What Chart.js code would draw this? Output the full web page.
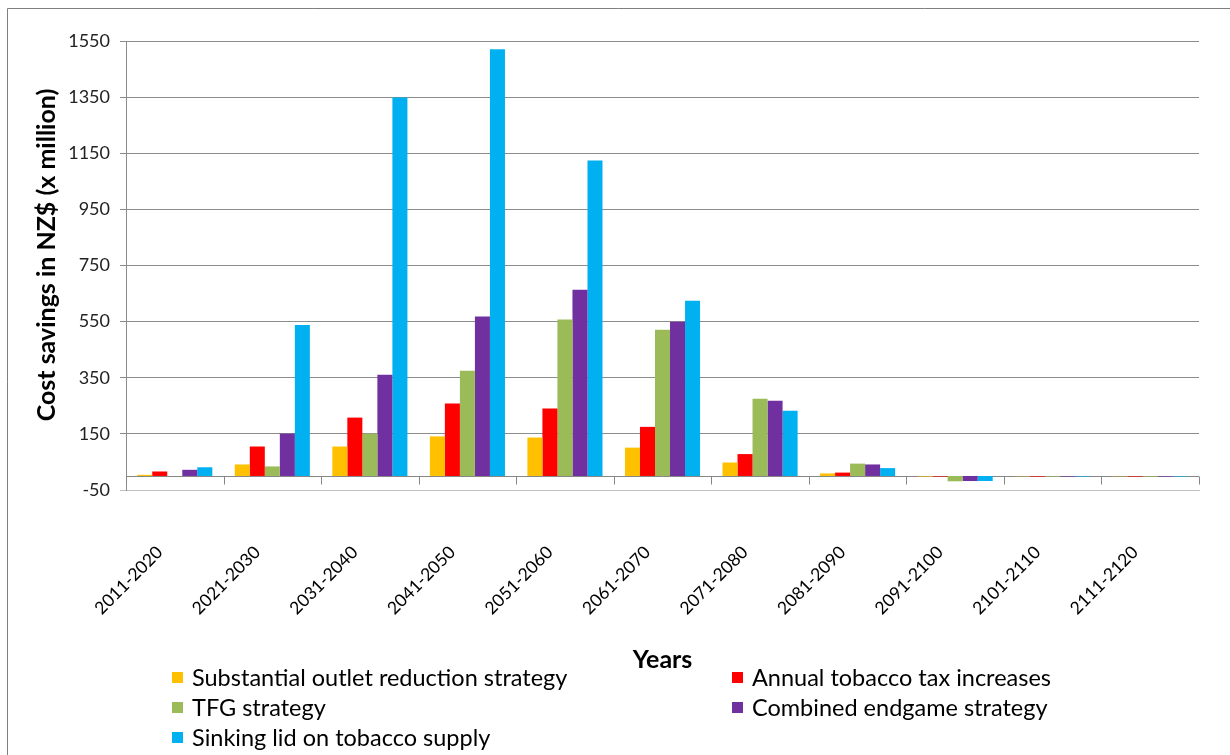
<!DOCTYPE html>
<html>
<head>
<meta charset="utf-8">
<script src="https://cdn.jsdelivr.net/npm/chart.js@4.4.1/dist/chart.umd.min.js"></script>
<style>
html,body{margin:0;padding:0;background:#fff;}
#wrap{width:1230px;height:755px;position:relative;}
</style>
</head>
<body>
<div id="wrap"><canvas id="c" width="1230" height="755"></canvas></div>
<script>
const categories = ['2011-2020','2021-2030','2031-2040','2041-2050','2051-2060','2061-2070','2071-2080','2081-2090','2091-2100','2101-2110','2111-2120'];
const seriesNames = ['Substantial outlet reduction strategy','Annual tobacco tax increases','TFG strategy','Combined endgame strategy','Sinking lid on tobacco supply'];
const seriesColors = ['#FFC000','#FF0000','#9BBB59','#7030A0','#00B0F0'];
const outletReduction = [4, 41, 105, 141, 137, 101, 48, 9, -2, -1, -1];
const taxIncreases = [16, 105, 208, 258, 240, 175, 78, 12, -2, -2, -2];
const tfgStrategy = [0, 34, 151, 375, 558, 521, 275, 44, -19, -2, -2];
const combinedEndgame = [22, 151, 361, 568, 664, 550, 268, 41, -18, -2, -2];
const sinkingLid = [31, 538, 1349, 1521, 1124, 624, 232, 28, -18, -2, -2];
const yTickValues = [-50, 150, 350, 550, 750, 950, 1150, 1350, 1550];
const yTitle = 'Cost savings in NZ$ (x million)';
const xTitle = 'Years';

const seriesValues = [outletReduction, taxIncreases, tfgStrategy, combinedEndgame, sinkingLid];
const FONT = 'Lato';

const frame = {
  id: 'frame',
  beforeDraw(chart) {
    const ctx = chart.ctx;
    ctx.save();
    ctx.fillStyle = '#fff';
    ctx.fillRect(0, 0, chart.width, chart.height);
    ctx.strokeStyle = '#7f7f7f';
    ctx.lineWidth = 1;
    ctx.beginPath();
    ctx.moveTo(7.5, chart.height);
    ctx.lineTo(7.5, 8.5);
    ctx.lineTo(chart.width, 8.5);
    ctx.stroke();
    ctx.restore();
  }
};

const zeroAxis = {
  id: 'zeroAxis',
  beforeDatasetsDraw(chart) {
    const ctx = chart.ctx, x = chart.scales.x, y = chart.scales.y;
    const y0 = Math.round(y.getPixelForValue(0)) + 0.5;
    ctx.save();
    ctx.strokeStyle = '#868686';
    ctx.lineWidth = 1;
    ctx.beginPath();
    ctx.moveTo(x.left, y0);
    ctx.lineTo(x.right, y0);
    for (let i = 0; i <= categories.length; i++) {
      const px = Math.round(x.getPixelForValue(i - 0.5)) + 0.5;
      ctx.moveTo(px, y0);
      ctx.lineTo(px, y0 + 8);
    }
    ctx.stroke();
    ctx.restore();
  }
};

const yAxisTitle = {
  id: 'yAxisTitle',
  afterDraw(chart) {
    const ctx = chart.ctx;
    ctx.save();
    ctx.translate(47, 255);
    ctx.rotate(-Math.PI / 2);
    ctx.font = 'bold 25px ' + FONT;
    ctx.fillStyle = '#000';
    ctx.textAlign = 'center';
    ctx.textBaseline = 'middle';
    ctx.fillText(yTitle, 0, 0);
    ctx.restore();
  }
};

const gridLegend = {
  id: 'gridLegend',
  afterDraw(chart) {
    const ctx = chart.ctx;
    const colX = [172, 732];
    const rowY = [678, 708, 738];
    ctx.save();
    ctx.font = '23.5px ' + FONT;
    ctx.textBaseline = 'middle';
    ctx.textAlign = 'left';
    chart.data.datasets.forEach((ds, i) => {
      const cx = colX[i % 2], cy = rowY[Math.floor(i / 2)];
      ctx.fillStyle = ds.backgroundColor;
      ctx.fillRect(cx, cy - 6, 11, 11);
      ctx.fillStyle = '#000';
      ctx.fillText(ds.label, cx + 20, cy);
    });
    ctx.restore();
  }
};

new Chart(document.getElementById('c'), {
  type: 'bar',
  data: {
    labels: categories,
    datasets: seriesNames.map((name, i) => ({
      label: name,
      data: seriesValues[i],
      backgroundColor: seriesColors[i],
      borderWidth: 0,
      categoryPercentage: 0.77,
      barPercentage: 1.0
    }))
  },
  options: {
    responsive: false,
    animation: false,
    devicePixelRatio: 1,
    layout: { padding: { top: 41, right: 31, bottom: 80, left: 0 } },
    plugins: { legend: { display: false }, tooltip: { enabled: false } },
    scales: {
      x: {
        grid: { display: false, drawTicks: false },
        border: { display: true, color: '#bfbfbf', width: 1 },
        ticks: { color: '#000', font: { family: FONT, size: 17.5 }, minRotation: 45, maxRotation: 45, padding: 52, labelOffset: -15, autoSkip: false },
        title: { display: true, text: xTitle, color: '#000', font: { family: FONT, size: 25, weight: 'bold' }, padding: { top: 0, bottom: 0 } },
        afterFit(s) { s.height = 185; }
      },
      y: {
        min: -50,
        max: 1550,
        afterBuildTicks(s) { s.ticks = yTickValues.map(v => ({ value: v })); },
        grid: { color: (c) => c.tick && c.tick.value === -50 ? '#bfbfbf' : '#8c8c8c', tickLength: 6, drawTicks: true },
        border: { display: true, color: '#8c8c8c' },
        ticks: { color: '#222', font: { family: FONT, size: 18 }, padding: 10, callback: (v) => String(v) },
        title: { display: false },
        afterFit(s) { s.width = 126; }
      }
    }
  },
  plugins: [frame, zeroAxis, yAxisTitle, gridLegend]
});
</script>
</body>
</html>
